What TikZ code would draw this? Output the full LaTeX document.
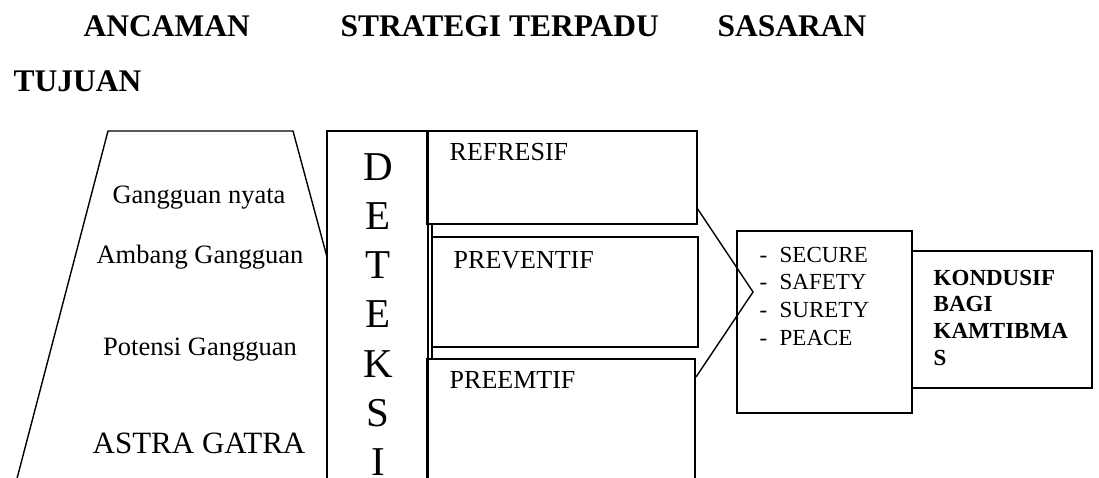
\documentclass[tikz,border=0pt]{standalone}
\usepackage{fontspec}
\setmainfont{Liberation Serif}
\usetikzlibrary{calc}

\tikzset{
  box/.style={draw,anchor=north west,inner sep=0pt,outer sep=0pt},
  lbl/.style={anchor=base west,inner sep=0pt},
  mid/.style={anchor=base,inner sep=0pt},
  head/.style={lbl,font=\fontsize{31.5}{36}\selectfont\bfseries},
  big/.style={mid,font=\fontsize{41}{49}\selectfont},
}

\begin{document}
\begin{tikzpicture}[x=1pt,y=-1pt,line width=1.4pt]
        \clip (0,0) rectangle (1099,477);
        % headings
        \node[head] (ancaman) at (83, 36) {ANCAMAN};
        \node[head] (strategi) at (340, 36) {STRATEGI TERPADU};
        \node[head] (sasaran) at (717, 36) {SASARAN};
        \node[head] (tujuan) at (13, 91) {TUJUAN};
        
        % ancaman
        \draw (14, 490) -- (108, 131) -- (293, 131) -- (327, 257);
        \node[mid,font=\fontsize{26.5}{30}\selectfont] (nyata) at (199, 203) {Gangguan nyata};
        \node[mid,font=\fontsize{26.5}{30}\selectfont] (ambang) at (200, 263) {Ambang Gangguan};
        \node[mid,font=\fontsize{26.5}{30}\selectfont] (potensi) at (200, 355) {Potensi Gangguan};
        \node[mid,font=\fontsize{31}{36}\selectfont] (astra) at (199, 453) {ASTRA GATRA};
        
        % deteksi
        \node[box,minimum width=101pt,minimum height=400pt] (deteksi) at (327, 131) {};
        \node[big] (d1) at (378, 180) {D};
        \node[big] (d2) at (378, 229.3) {E};
        \node[big] (d3) at (378, 278.6) {T};
        \node[big] (d4) at (378, 327.9) {E};
        \node[big] (d5) at (378, 377.2) {K};
        \node[big] (d6) at (378, 426.5) {S};
        \node[big] (d7) at (378, 475.8) {I};
        
        % strategi
        \node[box,minimum width=270pt,minimum height=93pt] (refresif) at (427, 131) {};
        \node[box,minimum width=266pt,minimum height=110pt] (preventif) at (432, 237) {};
        \node[box,minimum width=268pt,minimum height=200pt] (preemtif) at (427, 359) {};
        \draw (refresif.south west -| preventif.west) -- (preemtif.north west -| preventif.west);
        \node[lbl,font=\fontsize{26}{30}\selectfont] (t1) at (449, 160) {REFRESIF};
        \node[lbl,font=\fontsize{26}{30}\selectfont] (t2) at (453, 268) {PREVENTIF};
        \node[lbl,font=\fontsize{26}{30}\selectfont] (t3) at (449, 388) {PREEMTIF};
        
        % sasaran
        \node[box,minimum width=175pt,minimum height=182pt] (sasbox) at (737, 231) {};
        \node[box,minimum width=180pt,minimum height=137pt] (kondusif) at (912, 251) {};
        \coordinate (tip) at (753, 292);
        \draw ([yshift=16pt]refresif.south east) -- (tip) -- ([xshift=1pt,yshift=-18pt]preemtif.north east);
        \node[lbl,font=\fontsize{23}{27}\selectfont] (s1) at (759, 262) {\makebox[20pt][l]{-}SECURE};
        \node[lbl,font=\fontsize{23}{27}\selectfont] (s2) at (759, 289.7) {\makebox[20pt][l]{-}SAFETY};
        \node[lbl,font=\fontsize{23}{27}\selectfont] (s3) at (759, 317.4) {\makebox[20pt][l]{-}SURETY};
        \node[lbl,font=\fontsize{23}{27}\selectfont] (s4) at (759, 345) {\makebox[20pt][l]{-}PEACE};
        
        % tujuan
        \node[lbl,font=\fontsize{23}{27}\selectfont\bfseries] (k1) at (933, 285) {KONDUSIF};
        \node[lbl,font=\fontsize{23}{27}\selectfont\bfseries] (k2) at (933, 311.7) {BAGI};
        \node[lbl,font=\fontsize{23}{27}\selectfont\bfseries] (k3) at (933, 338.4) {KAMTIBMA};
        \node[lbl,font=\fontsize{23}{27}\selectfont\bfseries] (k4) at (933, 365) {S};
\end{tikzpicture}
\end{document}
